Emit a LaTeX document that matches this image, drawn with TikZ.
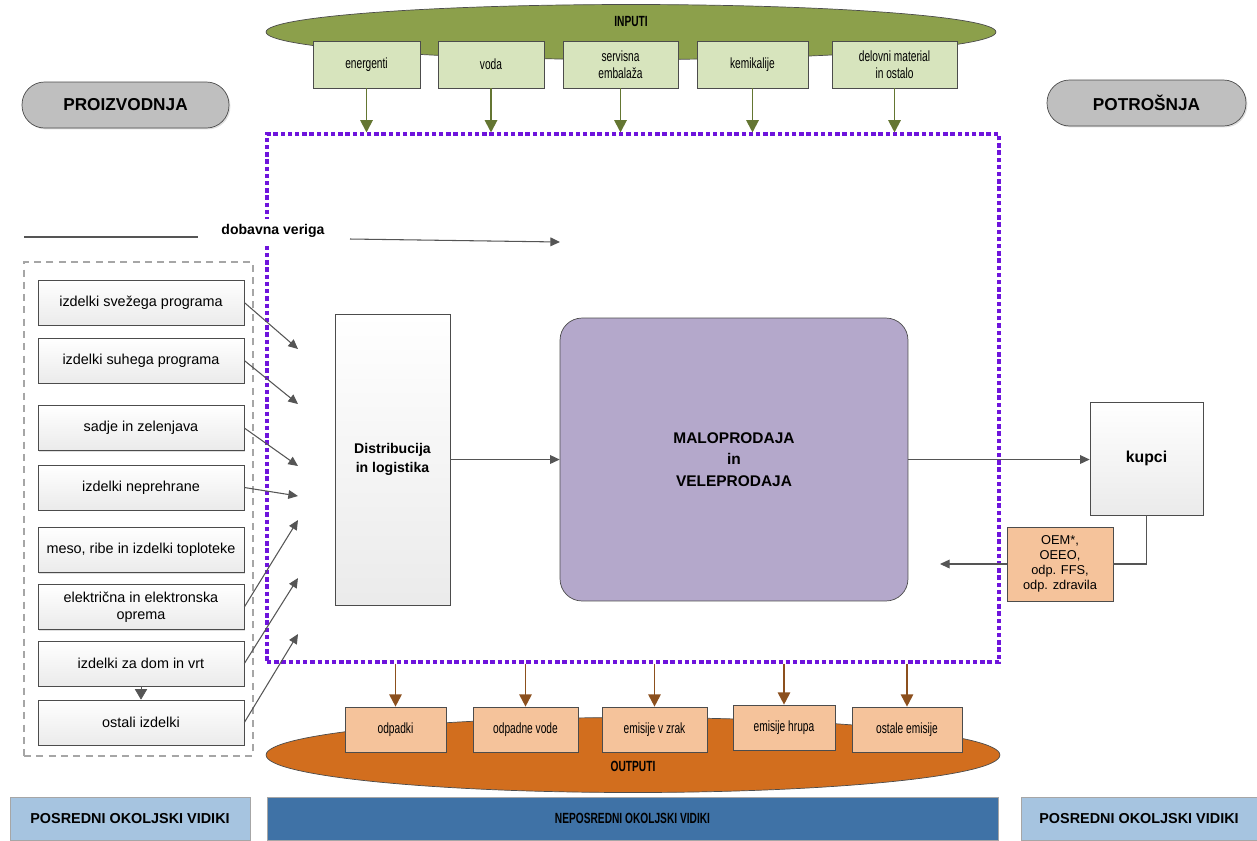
\documentclass[tikz,border=0pt]{standalone}
\usepackage{fontspec}
\setmainfont{Liberation Sans}
\newfontfamily\narrowfont[FakeStretch=0.69]{Liberation Sans}
\usetikzlibrary{arrows.meta,shapes.geometric,shadows}
\definecolor{inputolive}{RGB}{140,160,75}
\definecolor{inputlight}{RGB}{215,228,189}
\definecolor{inputarrow}{RGB}{100,118,50}
\definecolor{outputbrown}{RGB}{210,110,30}
\definecolor{outputlight}{RGB}{245,195,155}
\definecolor{outputarrow}{RGB}{140,80,30}
\definecolor{chainviolet}{RGB}{110,20,220}
\definecolor{retaillilac}{RGB}{180,168,203}
\definecolor{aspectlight}{RGB}{166,196,224}
\definecolor{aspectdark}{RGB}{63,114,166}
\definecolor{linegray}{RGB}{85,85,85}
\tikzstyle{in-oval} = [draw=gray!60!black, fill=inputolive, ellipse,
    minimum width=14.6cm, minimum height=1.1cm]
\tikzstyle{out-oval} = [draw=gray!60!black, fill=outputbrown, ellipse,
    minimum width=14.68cm, minimum height=1.5cm]
\tikzstyle{oval-title} = [font=\narrowfont\fontsize{8.4}{10}\selectfont\bfseries]
\tikzstyle{in-box} = [draw=gray!60!black, fill=inputlight, rectangle,
    minimum height=0.94cm, inner sep=2pt, align=center,
    font=\narrowfont\fontsize{8.4}{9.6}\selectfont]
\tikzstyle{out-box} = [draw=gray!60!black, fill=outputlight, rectangle,
    minimum height=0.9cm, inner sep=2pt, align=center,
    font=\narrowfont\fontsize{8.4}{9.6}\selectfont]
\tikzstyle{chain-box} = [draw=chainviolet, line width=1.8pt,
    dash pattern=on 2.5pt off 1.6pt, rectangle,
    minimum width=14.64cm, minimum height=10.56cm]
\tikzstyle{group-box} = [draw=gray!70, line width=0.7pt,
    dash pattern=on 4pt off 3pt, rectangle,
    minimum width=4.58cm, minimum height=9.88cm]
\tikzstyle{prod-box} = [draw=gray!60!black, top color=white, bottom color=gray!16,
    rectangle, minimum width=4.12cm, minimum height=0.9cm, align=center,
    drop shadow={shadow xshift=0.8pt, shadow yshift=-0.8pt, opacity=0.25},
    font=\fontsize{8.2}{9.4}\selectfont]
\tikzstyle{main-box} = [draw=gray!60!black, top color=white, bottom color=gray!16,
    rectangle, align=center,
    drop shadow={shadow xshift=0.8pt, shadow yshift=-0.8pt, opacity=0.25},
    font=\fontsize{8}{11}\selectfont\bfseries]
\tikzstyle{retail-box} = [draw=gray!60!black, fill=retaillilac, rectangle,
    rounded corners=0.44cm, minimum width=6.96cm, minimum height=5.66cm,
    align=center, font=\fontsize{8.8}{12.3}\selectfont\bfseries]
\tikzstyle{phase-pill} = [draw=gray!60!black, fill=gray!50, rectangle,
    rounded corners=0.45cm, minimum height=0.92cm,
    drop shadow={shadow xshift=0.8pt, shadow yshift=-0.8pt, opacity=0.25},
    font=\fontsize{9.8}{11}\selectfont\bfseries]
\tikzstyle{aspect-bar} = [draw=gray!70, rectangle, minimum height=0.86cm,
    font=\fontsize{8.2}{10}\selectfont\bfseries]
\tikzstyle{flow-arrow} = [draw=linegray, line width=0.6pt,
    -{Triangle[length=5.5pt,width=5pt]}]
\tikzstyle{in-arrow} = [draw=inputarrow, line width=1.1pt,
    -{Triangle[length=7pt,width=7pt]}]
\tikzstyle{out-arrow} = [draw=outputarrow, line width=1.1pt,
    -{Triangle[length=7pt,width=7pt]}]

\begin{document}
\begin{tikzpicture}[x=0.02cm, y=-0.02cm]
\useasboundingbox (0,0) rectangle (1257,840);

\node[in-oval] (inputi) at (631,32) {};
\node[oval-title] (inputi-txt) at (631,21) {INPUTI};
\node[out-oval] (outputi) at (633,755) {};
\node[oval-title] (outputi-txt) at (633,766) {OUTPUTI};

\node[chain-box] (veriga) at (633,398) {};
\node[group-box] (izdelki) at (138.5,509) {};

\node[phase-pill, minimum width=4.14cm] (proizvodnja) at (125.5,105) {PROIZVODNJA};
\node[phase-pill, minimum width=3.98cm] (potrosnja) at (1146.5,103) {POTROŠNJA};

\node[in-box, minimum width=2.14cm] (energenti) at (366.5,64.5) {energenti};
\node[in-box, minimum width=2.12cm] (voda) at (491,64.5) {voda};
\node[in-box, minimum width=2.3cm] (embalaza) at (620.5,64.5) {servisna\\embalaža};
\node[in-box, minimum width=2.22cm] (kemikalije) at (752.5,64.5) {kemikalije};
\node[in-box, minimum width=2.5cm] (material) at (894.5,64.5) {delovni material\\in ostalo};

\draw[in-arrow] (energenti.south) -- (energenti.south |- veriga.north);
\draw[in-arrow] (voda.south) -- (voda.south |- veriga.north);
\draw[in-arrow] (embalaza.south) -- (embalaza.south |- veriga.north);
\draw[in-arrow] (kemikalije.south) -- (kemikalije.south |- veriga.north);
\draw[in-arrow] (material.south) -- (material.south |- veriga.north);

\node[fill=white, font=\fontsize{8}{10}\selectfont\bfseries] (dobavna) at (273,231) {dobavna veriga};
\coordinate (dv-a) at (24,237);
\coordinate (dv-b) at (198,237);
\coordinate (dv-c) at (350,239);
\coordinate (dv-d) at (560,242);
\draw[linegray, line width=0.6pt] (dv-a) -- (dv-b);
\draw[flow-arrow] (dv-c) -- (dv-d);

\node[prod-box] (svez) at (141,302.5) {izdelki svežega programa};
\node[prod-box] (suh) at (141,360.5) {izdelki suhega programa};
\node[prod-box] (sadje) at (141,428) {sadje in zelenjava};
\node[prod-box] (neprehr) at (141,487.5) {izdelki neprehrane};
\node[prod-box] (meso) at (141,550) {meso, ribe in izdelki toploteke};
\node[prod-box] (elektro) at (141,607) {električna in elektronska\\oprema};
\node[prod-box] (dom) at (141,663.5) {izdelki za dom in vrt};
\node[prod-box] (ostali) at (141,722.5) {ostali izdelki};
\draw[linegray, -{Triangle[length=6pt,width=7pt]}] (dom.south) -- (ostali.north);

\coordinate (vhod-1) at (298,349);
\coordinate (vhod-2) at (298,404);
\coordinate (vhod-3) at (298,466);
\coordinate (vhod-4) at (298,496);
\coordinate (vhod-5) at (298,520);
\coordinate (vhod-6) at (298,578);
\coordinate (vhod-7) at (298,634);
\draw[flow-arrow] (svez.east) -- (vhod-1);
\draw[flow-arrow] (suh.east) -- (vhod-2);
\draw[flow-arrow] (sadje.east) -- (vhod-3);
\draw[flow-arrow] (neprehr.east) -- (vhod-4);
\draw[flow-arrow] (elektro.east) -- (vhod-5);
\draw[flow-arrow] (dom.east) -- (vhod-6);
\draw[flow-arrow] (ostali.east) -- (vhod-7);

\node[main-box, minimum width=2.3cm, minimum height=5.82cm] (distrib) at (392.5,459.5)
    {Distribucija\\in logistika};
\node[retail-box] (prodaja) at (734,459.5) {MALOPRODAJA\\in\\VELEPRODAJA};
\node[main-box, minimum width=2.26cm, minimum height=2.26cm,
    font=\fontsize{9}{11}\selectfont\bfseries] (kupci) at (1146.5,458.5) {kupci};
\node[out-box, minimum width=2.12cm, minimum height=1.48cm,
    font=\fontsize{7.3}{8.5}\selectfont] (oem) at (1060,564)
    {OEM*,\\OEEO,\\odp. FFS,\\odp. zdravila};

\draw[flow-arrow] (distrib.east) -- (prodaja.west);
\draw[flow-arrow] (prodaja.east) -- (prodaja.east -| kupci.west);
\draw[linegray, line width=0.6pt] (kupci.south) |- (oem.east);
\coordinate (povrat) at (940,564);
\draw[flow-arrow] (oem.west) -- (povrat);

\node[out-box, minimum width=2.02cm] (odpadki) at (395.5,729.5) {odpadki};
\node[out-box, minimum width=2.1cm] (vode) at (525.5,729.5) {odpadne vode};
\node[out-box, minimum width=2.1cm] (zrak) at (654.5,729.5) {emisije v zrak};
\node[out-box, minimum width=2.04cm] (hrup) at (784,727.5) {emisije hrupa};
\node[out-box, minimum width=2.2cm] (emisije) at (907,729.5) {ostale emisije};

\draw[out-arrow] (odpadki.north |- veriga.south) -- (odpadki.north);
\draw[out-arrow] (vode.north |- veriga.south) -- (vode.north);
\draw[out-arrow] (zrak.north |- veriga.south) -- (zrak.north);
\draw[out-arrow] (hrup.north |- veriga.south) -- (hrup.north);
\draw[out-arrow] (emisije.north |- veriga.south) -- (emisije.north);

\node[aspect-bar, fill=aspectlight, minimum width=4.8cm] (posredni-l) at (130,818.5)
    {POSREDNI OKOLJSKI VIDIKI};
\node[aspect-bar, fill=aspectdark, minimum width=14.62cm,
    font=\narrowfont\fontsize{8.4}{10}\selectfont\bfseries] (neposredni) at (632.5,818.5)
    {NEPOSREDNI OKOLJSKI VIDIKI};
\node[aspect-bar, fill=aspectlight, minimum width=4.72cm] (posredni-d) at (1139,818.5)
    {POSREDNI OKOLJSKI VIDIKI};
\end{tikzpicture}
\end{document}
